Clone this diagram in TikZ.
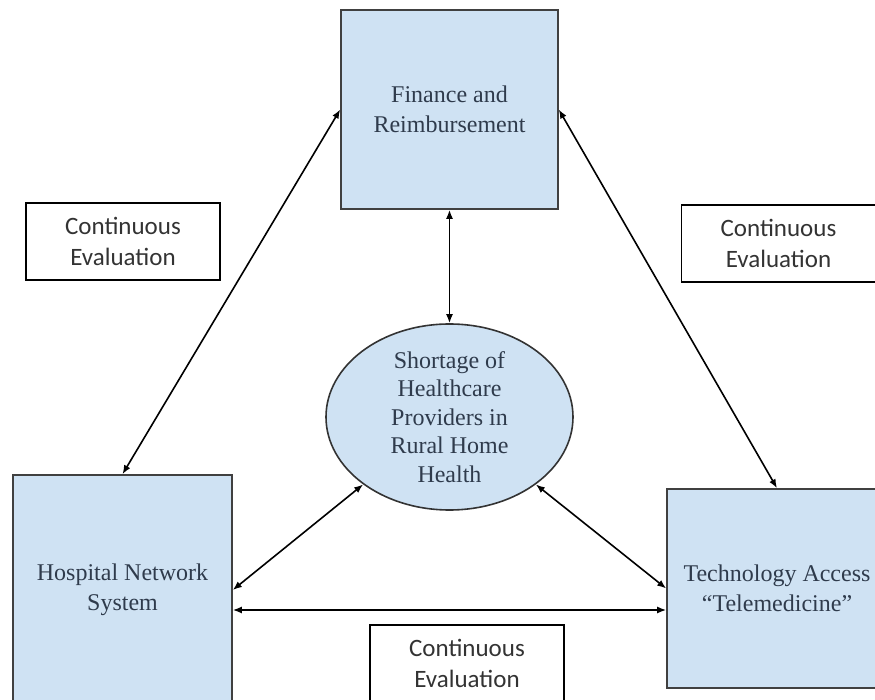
\documentclass[tikz,border=0pt]{standalone}
\usepackage{fontspec}
\setmainfont{Liberation Serif}
\newfontfamily\evalfont{Carlito}
\usetikzlibrary{shapes.geometric,arrows.meta}
\definecolor{boxblue}{HTML}{CFE2F3}
\definecolor{boxtext}{HTML}{2F3B4C}
\definecolor{evaltext}{HTML}{333333}
\tikzset{factor/.style={draw=black!75,line width=0.8pt,fill=boxblue,text=boxtext,
   align=center,font=\fontsize{12}{15}\selectfont},
 core/.style={ellipse,draw=black!80,line width=0.8pt,fill=boxblue,text=boxtext,
   align=center,inner sep=0pt,minimum width=123.5pt,minimum height=93pt,
   font=\fontsize{12}{14.2}\selectfont},
 evalbox/.style={draw=black,line width=0.7pt,text=evaltext,align=center,
   minimum width=97pt,minimum height=38.5pt,font=\evalfont\fontsize{12.5}{15.5}\selectfont},
 link/.style={line width=0.8pt,{Latex[length=4.5pt,width=3.5pt]}-{Latex[length=4.5pt,width=3.5pt]}},
 }

\begin{document}
\begin{tikzpicture}[x=0.5pt,y=-0.5pt]
        \useasboundingbox (0,0) rectangle (875,700);
        \clip (0,0) rectangle (875,700);
        % factors
        \node[factor,minimum width=108.5pt,minimum height=99.5pt] (fin) at (449.5,109.5) {Finance and\\Reimbursement};
        \node[factor,minimum width=109.5pt,minimum height=115pt] (hosp) at (122.5,590) {Hospital Network\\System};
        \node[factor,minimum width=110pt,minimum height=99.5pt] (tech) at (777,588.5) {Technology Access\\“Telemedicine”};
        \node[core] (shortage) at (449.5,417) {Shortage of\\Healthcare\\Providers in\\Rural Home\\Health};
        % evaluation labels
        \node[evalbox] (evalL) at (123,241.5) {Continuous\\Evaluation};
        \node[evalbox] (evalR) at (778.5,243.5) {Continuous\\Evaluation};
        \node[evalbox] (evalB) at (467,663.5) {Continuous\\Evaluation};
        % links
        \draw[link] (hosp.north) -- (fin.west);
        \draw[link] (fin.east) -- (tech.north);
        \draw[link] (fin.south) -- (shortage.north);
        \draw[link] (hosp.east) -- (shortage.218);
        \draw[link] (tech.west) -- (shortage.322);
        \draw[link] ([yshift=-10pt]hosp.east) -- ([yshift=-10pt]hosp.east -| tech.west);
    \end{tikzpicture}
\end{document}
